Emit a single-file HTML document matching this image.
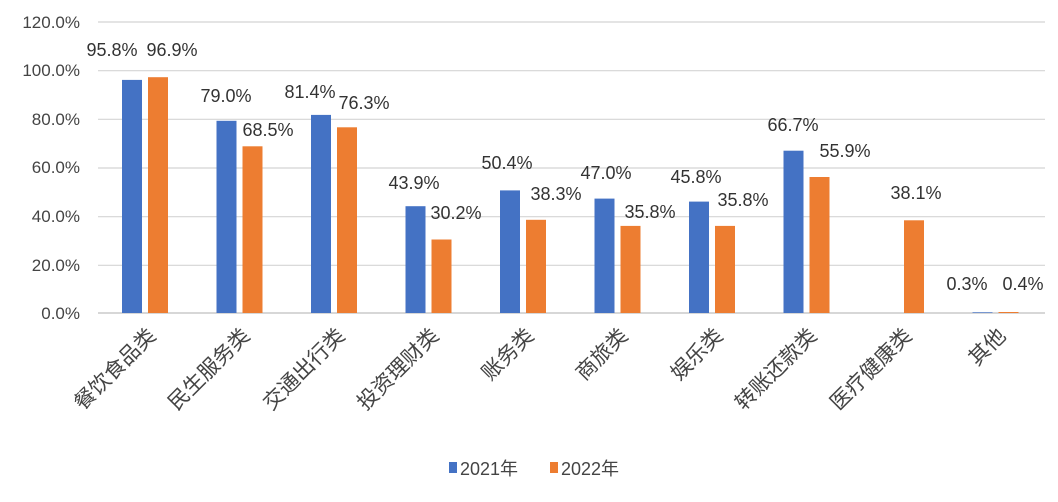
<!DOCTYPE html>
<html><head><meta charset="utf-8"><style>
html,body{margin:0;padding:0;background:#fff;}
svg{display:block;font-family:"Liberation Sans","Noto Sans CJK SC",sans-serif;}
</style></head><body>
<svg width="1058" height="502" viewBox="0 0 1058 502">
<rect width="1058" height="502" fill="#fff"/>
<g stroke="#d4d4d4" stroke-width="1.2">
<line x1="98" x2="1045" y1="22" y2="22"/>
<line x1="98" x2="1045" y1="70.7" y2="70.7"/>
<line x1="98" x2="1045" y1="119.3" y2="119.3"/>
<line x1="98" x2="1045" y1="168" y2="168"/>
<line x1="98" x2="1045" y1="216.7" y2="216.7"/>
<line x1="98" x2="1045" y1="265.3" y2="265.3"/>
<line x1="98" x2="1045" y1="313" y2="313" stroke="#bfbfbf"/>
</g>
<g font-size="17" fill="#444" text-anchor="end">
<text x="80" y="28">120.0%</text>
<text x="80" y="76">100.0%</text>
<text x="80" y="125">80.0%</text>
<text x="80" y="173">60.0%</text>
<text x="80" y="222">40.0%</text>
<text x="80" y="271">20.0%</text>
<text x="80" y="319">0.0%</text>
</g>
<g fill="#4472c4">
<rect x="122" y="79.9" width="20" height="233.1"/>
<rect x="216.5" y="120.8" width="20" height="192.2"/>
<rect x="311" y="114.9" width="20" height="198.1"/>
<rect x="405.5" y="206.2" width="20" height="106.8"/>
<rect x="500" y="190.4" width="20" height="122.6"/>
<rect x="594.5" y="198.6" width="20" height="114.4"/>
<rect x="689" y="201.6" width="20" height="111.4"/>
<rect x="783.5" y="150.7" width="20" height="162.3"/>
<rect x="972.5" y="312.3" width="20" height="0.7"/>
</g>
<g fill="#ed7d31">
<rect x="148" y="77.2" width="20" height="235.8"/>
<rect x="242.5" y="146.3" width="20" height="166.7"/>
<rect x="337" y="127.3" width="20" height="185.7"/>
<rect x="431.5" y="239.5" width="20" height="73.5"/>
<rect x="526" y="219.8" width="20" height="93.2"/>
<rect x="620.5" y="225.9" width="20" height="87.1"/>
<rect x="715" y="225.9" width="20" height="87.1"/>
<rect x="809.5" y="177" width="20" height="136"/>
<rect x="904" y="220.3" width="20" height="92.7"/>
<rect x="998.5" y="312" width="20" height="1"/>
</g>
<g font-size="18" fill="#333" text-anchor="middle">
<text x="112" y="56">95.8%</text>
<text x="172" y="56">96.9%</text>
<text x="226" y="102">79.0%</text>
<text x="268" y="136">68.5%</text>
<text x="310" y="98">81.4%</text>
<text x="364" y="109">76.3%</text>
<text x="414" y="189">43.9%</text>
<text x="456" y="219">30.2%</text>
<text x="507" y="169">50.4%</text>
<text x="556" y="200">38.3%</text>
<text x="606" y="179">47.0%</text>
<text x="650" y="218">35.8%</text>
<text x="696" y="183">45.8%</text>
<text x="743" y="206">35.8%</text>
<text x="793" y="131">66.7%</text>
<text x="845" y="157">55.9%</text>
<text x="916" y="199">38.1%</text>
<text x="967" y="290">0.3%</text>
<text x="1023" y="290">0.4%</text>
</g>
<g font-size="21" fill="#444" text-anchor="end">
<text transform="translate(157,337) rotate(-45)">餐饮食品类</text>
<text transform="translate(251,337) rotate(-45)">民生服务类</text>
<text transform="translate(346,337) rotate(-45)">交通出行类</text>
<text transform="translate(440,337) rotate(-45)">投资理财类</text>
<text transform="translate(535,337) rotate(-45)">账务类</text>
<text transform="translate(629,337) rotate(-45)">商旅类</text>
<text transform="translate(724,337) rotate(-45)">娱乐类</text>
<text transform="translate(818,337) rotate(-45)">转账还款类</text>
<text transform="translate(913,337) rotate(-45)">医疗健康类</text>
<text transform="translate(1007,337) rotate(-45)">其他</text>
</g>
<rect x="449" y="462" width="8" height="11" fill="#4472c4"/>
<text x="460" y="475" font-size="18" fill="#444">2021年</text>
<rect x="550" y="462" width="8" height="11" fill="#ed7d31"/>
<text x="561" y="475" font-size="18" fill="#444">2022年</text>
</svg>
</body></html>
